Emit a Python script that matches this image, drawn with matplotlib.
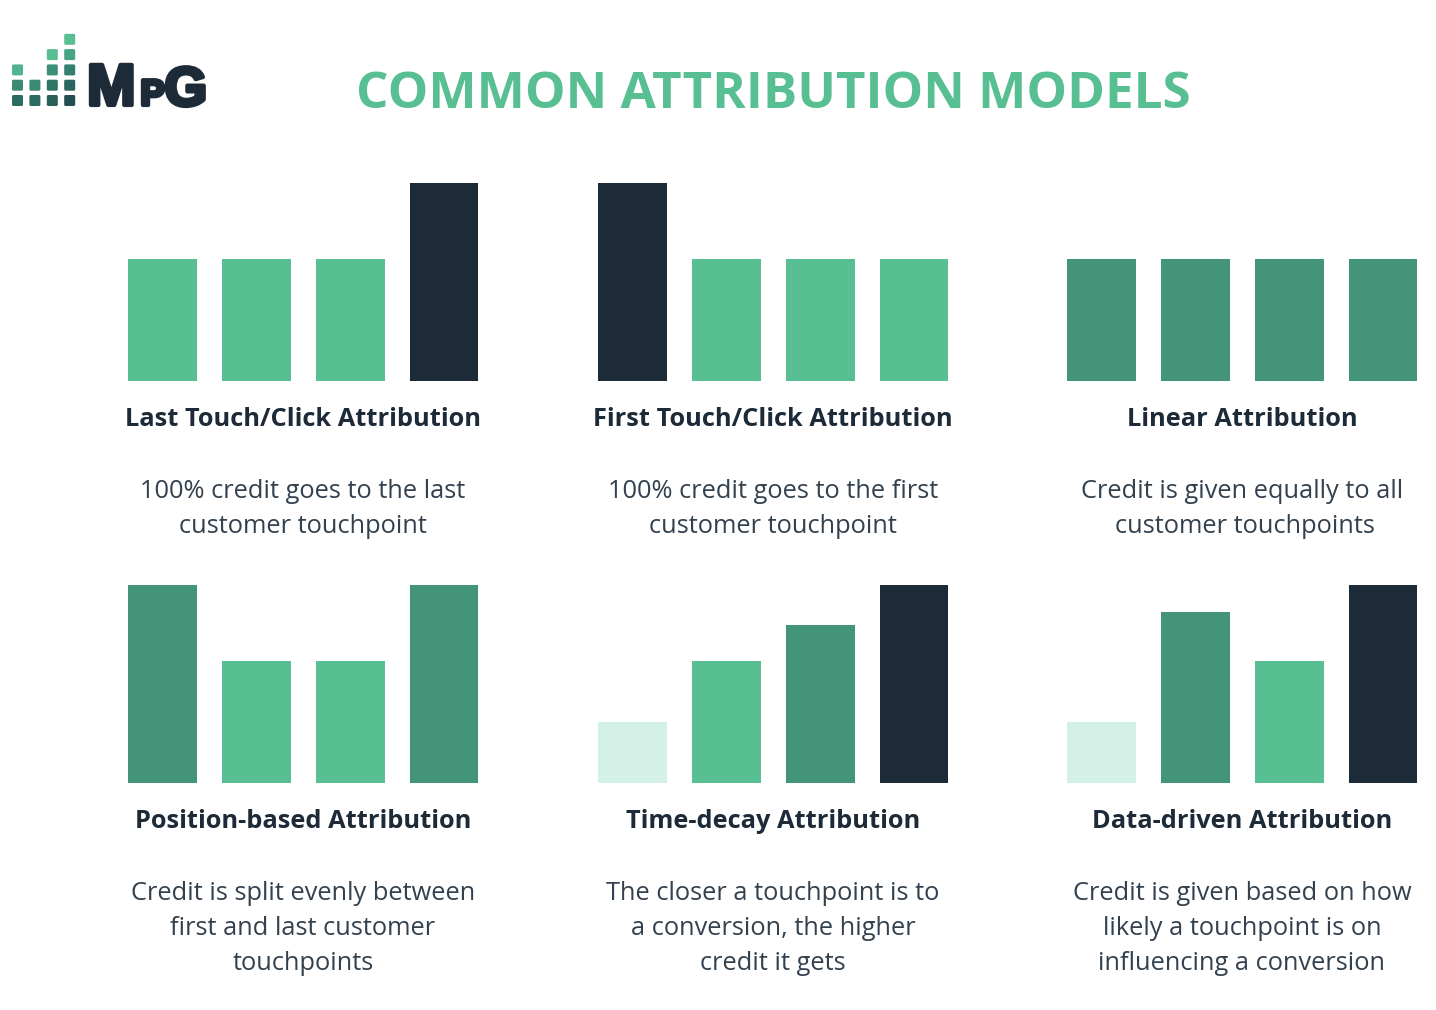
import matplotlib
matplotlib.use("Agg")
import matplotlib.pyplot as plt
import matplotlib.patheffects as pe
from matplotlib.patches import FancyBboxPatch

W, H = 1436, 1010

GREEN = "#58bf92"
TEAL = "#439479"
NAVY = "#1d2a38"
PALE = "#d4f1e7"

# bar heights in pixels, same scale for every panel
heights = [
    [122, 122, 122, 198],
    [198, 122, 122, 122],
    [122, 122, 122, 122],
    [198, 122, 122, 198],
    [61, 122, 158, 198],
    [61, 171, 122, 198],
]
colors = [
    [GREEN, GREEN, GREEN, NAVY],
    [NAVY, GREEN, GREEN, GREEN],
    [TEAL, TEAL, TEAL, TEAL],
    [TEAL, GREEN, GREEN, TEAL],
    [PALE, GREEN, TEAL, NAVY],
    [PALE, TEAL, GREEN, NAVY],
]
titles = [
    "Last Touch/Click Attribution",
    "First Touch/Click Attribution",
    "Linear Attribution",
    "Position-based Attribution",
    "Time-decay Attribution",
    "Data-driven Attribution",
]
descriptions = [
    ["100% credit goes to the last", "customer touchpoint"],
    ["100% credit goes to the first", "customer touchpoint"],
    ["Credit is given equally to all", "customer touchpoints"],
    ["Credit is split evenly between", "first and last customer", "touchpoints"],
    ["The closer a touchpoint is to", "a conversion, the higher", "credit it gets"],
    ["Credit is given based on how", "likely a touchpoint is on", "influencing a conversion"],
]

panel_left = [128, 598, 1067]
panel_base = [381, 783]
text_cx = [303, 773, 1242]

# logo squares, colours listed from the bottom square up
logo_cols = [
    ["#2c6b60", "#3a8a74", "#52b48e"],
    ["#2c6b60", "#3a8a74"],
    ["#2a5f5a", "#2f7565", "#3c9078", "#58bf92"],
    ["#234f52", "#2a6560", "#348070", "#45a585", "#58bf92"],
]

fig = plt.figure(figsize=(W / 100, H / 100), dpi=100, facecolor="white")
bg = fig.add_axes([0, 0, 1, 1])
bg.set_xlim(0, W)
bg.set_ylim(H, 0)
bg.axis("off")

bg.text(773.5, 95, "COMMON ATTRIBUTION MODELS", color=GREEN, fontsize=36.8,
        fontweight="bold", family="Open Sans", ha="center", va="center")

# logo
for i, col in enumerate(logo_cols):
    for j, c in enumerate(col):
        bg.add_patch(FancyBboxPatch((12.8 + i * 17.4, 95.8 - j * 15.3), 9.4, 9.4,
                                    boxstyle="round,pad=0.8,rounding_size=1.5",
                                    fc=c, lw=0))

# P and G stay separate texts, the stroke closes the gap between them
thick = [pe.withStroke(linewidth=3, foreground=NAVY)]
logo_font = dict(color=NAVY, fontweight="bold", family="Liberation Sans",
                 ha="left", va="baseline", path_effects=thick)
bg.text(87, 105, "M", fontsize=42, **logo_font)
bg.text(140.5, 105, "P", fontsize=26, **logo_font)
bg.text(164.5, 105.5, "G", fontsize=39.5, **logo_font)

for k in range(6):
    row, col = divmod(k, 3)
    base = panel_base[row]
    # each panel is its own axes, y is in reference pixels above the baseline
    ax = fig.add_axes([panel_left[col] / W, 1 - base / H, 350 / W, 198 / H])
    ax.bar([0, 94, 188, 282], heights[k], width=68.5, align="edge", color=colors[k])
    ax.set_xlim(0, 350)
    ax.set_ylim(0, 198)
    ax.axis("off")

    bg.text(text_cx[col], base + 38.5, titles[k], color=NAVY, fontsize=18.3,
            fontweight="bold", family="Open Sans", ha="center", va="center")
    for m, line in enumerate(descriptions[k]):
        # the last line of the Linear panel sits a little right of centre
        shift = 3 if k == 2 and m == 1 else 0
        bg.text(text_cx[col] + shift, base + 110 + m * 35.5, line, color="#33414f",
                fontsize=18.25, family="Open Sans", ha="center", va="center")

fig.savefig("out.png", dpi=100)
